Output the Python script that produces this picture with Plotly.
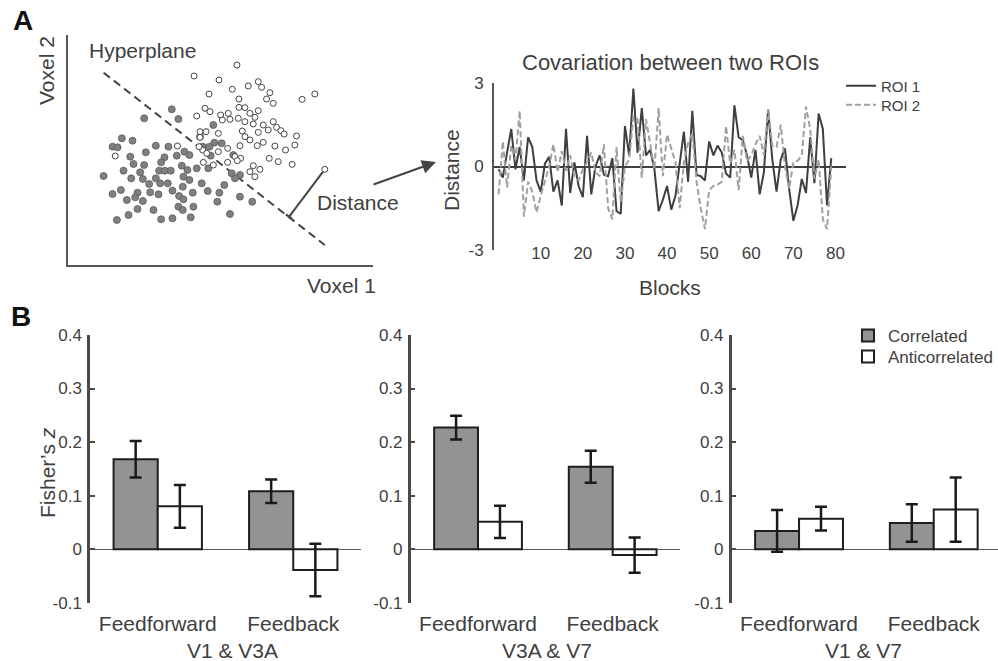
import plotly.graph_objects as go

# ---------------- data ----------------
# Panel A (left): voxel scatter, values in arbitrary units
corr_voxel1 = [515, 432, 535, 365, 397, 337, 352, 467, 505, 553, 437, 390, 493, 530, 568, 640, 600, 608, 628, 643,
               665, 632, 700, 483, 400, 432, 545, 590, 625, 477, 494, 512, 370, 420, 562, 310, 393, 428, 467, 550,
               568, 605, 695, 720, 705, 447, 480, 503, 548, 673, 362, 337, 412, 450, 475, 517, 537, 578, 623, 658,
               405, 380, 428, 550, 720, 757, 652, 580, 412, 460, 535, 548, 385, 350, 483, 517, 572, 690]
corr_voxel2 = [328, 355, 357, 415, 422, 440, 442, 437, 440, 455, 457, 470, 472, 467, 465, 375, 410, 440, 440, 428,
               430, 467, 465, 487, 492, 495, 497, 505, 505, 512, 512, 512, 512, 517, 510, 528, 535, 537, 535, 530,
               540, 550, 520, 525, 535, 552, 550, 550, 560, 555, 570, 582, 578, 577, 583, 572, 588, 578, 573, 578,
               592, 600, 603, 598, 590, 605, 605, 620, 627, 630, 620, 630, 645, 660, 658, 655, 652, 642]
anti_voxel1 = [711, 582, 657, 697, 745, 775, 785, 627, 810, 717, 800, 820, 907, 945, 615, 630, 590, 662, 685, 717,
               735, 750, 775, 667, 690, 715, 735, 765, 760, 790, 820, 805, 830, 843, 853, 600, 618, 655, 727, 775,
               890, 600, 735, 750, 790, 825, 885, 532, 683, 608, 655, 720, 772, 345, 857, 705, 722, 808, 835, 877,
               610, 640, 683, 712, 760, 780, 750, 765, 975, 597, 620]
anti_voxel2 = [195, 228, 240, 268, 258, 245, 262, 282, 278, 297, 297, 310, 298, 282, 325, 335, 348, 345, 340, 322,
               323, 340, 332, 360, 358, 355, 365, 352, 372, 375, 365, 390, 382, 392, 402, 395, 395, 400, 393, 397,
               408, 412, 410, 420, 427, 438, 435, 438, 445, 450, 455, 437, 437, 468, 450, 470, 475, 475, 485, 493,
               487, 495, 487, 482, 497, 508, 515, 530, 508, 440, 460]
hyperplane_v1 = [310, 975]
hyperplane_v2 = [218, 735]
distance_v1 = [868, 975]
distance_v2 = [650, 508]
foot_v1 = [858, 876]
foot_v2 = [643, 656]

# Panel A (right): covariation time courses
blocks = list(range(80))
roi1 = [-0.1, -0.4, 0.5, 1.35, -0.1, 0.7, -0.5, 1.05, 0.7, -0.5,
        -0.9, 0.1, 0.35, -0.9, -0.5, -1.4, 1.35, -0.95, 0.15, -0.7,
        -1.1, 1.1, -1.0, 0.0, 0.4, -0.3, -0.35, 0.3, -1.6, -1.7,
        1.45, 0.4, 2.8, 0.5, 2.1, 0.4, 0.6, -0.1, -1.6, -1.2,
        -0.7, -1.55, -1.05, 0.15, 1.25, -0.55, 2.0, -0.3, -0.35, -0.5,
        0.9, 0.4, 0.75, 0.5, -0.25, -0.4, 2.2, 1.05, 0.95, 0.4,
        -0.4, 0.6, -1.0, -0.2, 2.05, 0.25, -0.9, 0.25, 0.65, -0.8,
        -1.95, -1.4, -0.45, -0.95, 1.05, -0.6, 1.9, 1.35, -1.4, 0.3]
roi2 = [-1.0, 0.9, -0.75, 0.75, 0.25, 2.0, -1.8, -0.55, -0.9, -1.65,
        -1.05, -0.5, 0.0, 0.8, -0.2, 0.55, -0.15, 0.4, -0.35, -0.5,
        -0.1, 0.15, 0.5, -0.2, -0.35, 0.8, -1.5, -1.9, 0.7, -1.3,
        0.0, 0.25, 1.8, 1.7, -0.4, 1.7, 0.75, -0.1, 2.1, -0.35,
        1.15, 0.6, 0.15, -1.5, 0.15, 0.85, 1.2, -0.55, -1.5, -2.25,
        -0.85, -0.7, -0.65, -0.55, 1.45, 0.1, 0.6, -0.85, 1.1, 0.2,
        0.4, 0.8, 1.1, 0.4, 2.05, 0.75, 0.7, 1.5, 0.0, -0.8,
        0.15, 0.2, 0.4, 2.15, 1.35, -0.45, 0.25, -1.9, -2.25, 0.0]
line_xticks = [10, 20, 30, 40, 50, 60, 70, 80]
line_yticks = [-3, 0, 3]

# Panel B: Fisher's z
conditions = ["Feedforward", "Feedback"]
pairs = ["V1 & V3A", "V3A & V7", "V1 & V7"]
correlated = [[0.168, 0.108], [0.227, 0.154], [0.034, 0.049]]
correlated_err = [[0.034, 0.022], [0.022, 0.030], [0.039, 0.035]]
anticorrelated = [[0.080, -0.039], [0.051, -0.011], [0.057, 0.074]]
anticorrelated_err = [[0.040, 0.049], [0.030, 0.033], [0.022, 0.060]]
bar_yticks = [-0.1, 0, 0.1, 0.2, 0.3, 0.4]
bar_yticktext = ["-0.1", "0", "0.1", "0.2", "0.3", "0.4"]

# ---------------- style ----------------
W, H = 998, 661
FONT = "Liberation Sans, Arial, Helvetica, sans-serif"
TXT = "#404040"
AX = "#4a4a4a"


def px(x):
    return x / W


def py(y):
    return 1 - y / H


fig = go.Figure()

# ---- A left: scatter ----
fig.add_trace(go.Scatter(x=hyperplane_v1, y=hyperplane_v2, mode="lines",
                         line=dict(color="#444444", width=2, dash="8px,5px"),
                         showlegend=False, hoverinfo="skip", xaxis="x", yaxis="y"))
fig.add_trace(go.Scatter(x=distance_v1, y=distance_v2, mode="lines",
                         line=dict(color="#444444", width=2),
                         showlegend=False, hoverinfo="skip", xaxis="x", yaxis="y"))
fig.add_trace(go.Scatter(x=foot_v1, y=foot_v2, mode="lines",
                         line=dict(color="#444444", width=2),
                         showlegend=False, hoverinfo="skip", xaxis="x", yaxis="y"))
fig.add_trace(go.Scatter(x=corr_voxel1, y=corr_voxel2, mode="markers",
                         marker=dict(size=7, color="#808080", line=dict(color="#5a5a5a", width=0.8)),
                         showlegend=False, xaxis="x", yaxis="y"))
fig.add_trace(go.Scatter(x=anti_voxel1, y=anti_voxel2, mode="markers",
                         marker=dict(size=6, color="white", line=dict(color="#444444", width=1)),
                         showlegend=False, xaxis="x", yaxis="y"))

# ---- A right: lines ----
fig.add_trace(go.Scatter(x=blocks, y=roi1, mode="lines", name="ROI 1",
                         line=dict(color="#3f3f3f", width=2),
                         xaxis="x2", yaxis="y2", legend="legend"))
fig.add_trace(go.Scatter(x=blocks, y=roi2, mode="lines", name="ROI 2",
                         line=dict(color="#a0a0a0", width=2, dash="6px,3px"),
                         xaxis="x2", yaxis="y2", legend="legend3"))

# ---- B: bars ----
for i in range(3):
    xa = "x%d" % (i + 3)
    ya = "y%d" % (i + 3)
    fig.add_trace(go.Bar(x=conditions, y=correlated[i], name="Correlated",
                         marker=dict(color="#939393", line=dict(color="#1e1e1e", width=2)),
                         error_y=dict(type="data", array=correlated_err[i], color="#1a1a1a",
                                      thickness=2.5, width=6),
                         xaxis=xa, yaxis=ya, legend="legend2", showlegend=(i == 2)))
    fig.add_trace(go.Bar(x=conditions, y=anticorrelated[i], name="Anticorrelated",
                         marker=dict(color="white", line=dict(color="#1e1e1e", width=2)),
                         error_y=dict(type="data", array=anticorrelated_err[i], color="#1a1a1a",
                                      thickness=2.5, width=6),
                         xaxis=xa, yaxis=ya, legend="legend4", showlegend=(i == 2)))


def leg(x, y, size):
    return dict(x=px(x), y=py(y), xanchor="left", yanchor="middle", bgcolor="rgba(0,0,0,0)",
                font=dict(size=size, color=TXT, family=FONT), tracegroupgap=0, borderwidth=0)


layout = dict(
    width=W, height=H, margin=dict(l=0, r=0, t=0, b=0, autoexpand=False),
    paper_bgcolor="white", plot_bgcolor="rgba(0,0,0,0)",
    font=dict(family=FONT, color=TXT, size=17),
    barmode="group", bargap=0.348, bargroupgap=0,
    # scatter axes
    xaxis=dict(domain=[px(68), px(373)], range=[203, 1120], showline=True, linecolor="#555555",
               linewidth=2, showticklabels=False, ticks="", showgrid=False, zeroline=False, anchor="y"),
    yaxis=dict(domain=[py(265), py(35)], range=[795, 105], showline=True, linecolor="#555555",
               linewidth=2, showticklabels=False, ticks="", showgrid=False, zeroline=False, anchor="x"),
    # line chart axes
    xaxis2=dict(domain=[px(494), px(846)], range=[-1.1, 82.5], anchor="free", position=py(241),
                showline=False, ticks="", tickvals=line_xticks, showgrid=False, zeroline=False,
                tickfont=dict(size=17, color=TXT)),
    yaxis2=dict(domain=[py(250), py(83)], range=[-3, 3], anchor="x2", showline=True,
                linecolor="#555555", linewidth=2, ticks="", tickvals=line_yticks,
                ticktext=["-3", "0", "3"], showgrid=False, zeroline=True, zerolinecolor="#3f3f3f",
                zerolinewidth=2, tickfont=dict(size=17, color=TXT), ticklabelstandoff=5),
    legend=leg(841, 86, 15),
    legend3=leg(841, 105, 15),
    legend2=leg(848, 336, 17),
    legend4=leg(848, 357, 17),
)

bar_x_domains = [(90, 361), (410.7, 680), (731.7, 998)]
bar_x_ranges = [[-0.5, 1.5], [-0.5, 1.5], [-0.5, 1.477]]
for i in range(3):
    a, b = bar_x_domains[i]
    layout["xaxis%d" % (i + 3)] = dict(domain=[px(a), px(b)], range=bar_x_ranges[i], anchor="y%d" % (i + 3),
                                       showline=False, ticks="", showgrid=False, zeroline=False,
                                       tickfont=dict(size=21, color=TXT), ticklabelstandoff=6)
    layout["yaxis%d" % (i + 3)] = dict(domain=[py(602.7), py(335)], range=[-0.1, 0.4], anchor="x%d" % (i + 3),
                                       showline=True, linecolor=AX, linewidth=2.5, ticks="inside",
                                       ticklen=5, tickwidth=2, tickcolor=AX, tickvals=bar_yticks,
                                       ticktext=bar_yticktext, showgrid=False, zeroline=True,
                                       zerolinecolor="#5a5a5a", zerolinewidth=1,
                                       tickfont=dict(size=17, color=TXT), ticklabelstandoff=2)
fig.update_layout(**layout)


def note(text, x, y, size=21, angle=0, color=TXT, bold=False, xanchor="center"):
    fig.add_annotation(text=("<b>%s</b>" % text) if bold else text, x=px(x), y=py(y),
                       xref="paper", yref="paper", showarrow=False, textangle=angle,
                       xanchor=xanchor, yanchor="middle",
                       font=dict(size=size, color=color, family=FONT))


note("A", 23, 21, size=28, color="#111111", bold=True)
note("B", 21, 316, size=28, color="#111111", bold=True)
note("Voxel 2", 47, 71, angle=-90)
note("Voxel 1", 341, 285)
note("Hyperplane", 142, 51)
note("Distance", 358, 202)
note("Covariation between two ROIs", 670, 62, size=22)
note("Distance", 451, 170, angle=-90)
note("Blocks", 670, 287)
note("Fisher\u2019s <i>z</i>", 47, 473, angle=-90)
note(pairs[0], 232, 650)
note(pairs[1], 546.7, 650)
note(pairs[2], 863, 650)

# arrow from "Distance" to the time-course plot
fig.add_annotation(x=px(436), y=py(162), xref="paper", yref="paper", ax=-64, ay=23,
                   showarrow=True, arrowhead=2, arrowsize=1.4, arrowwidth=2, arrowcolor="#444444",
                   standoff=0, text="")

fig.write_html("out.html", config={"displayModeBar": False},
               post_script="document.body.style.margin='0';")
